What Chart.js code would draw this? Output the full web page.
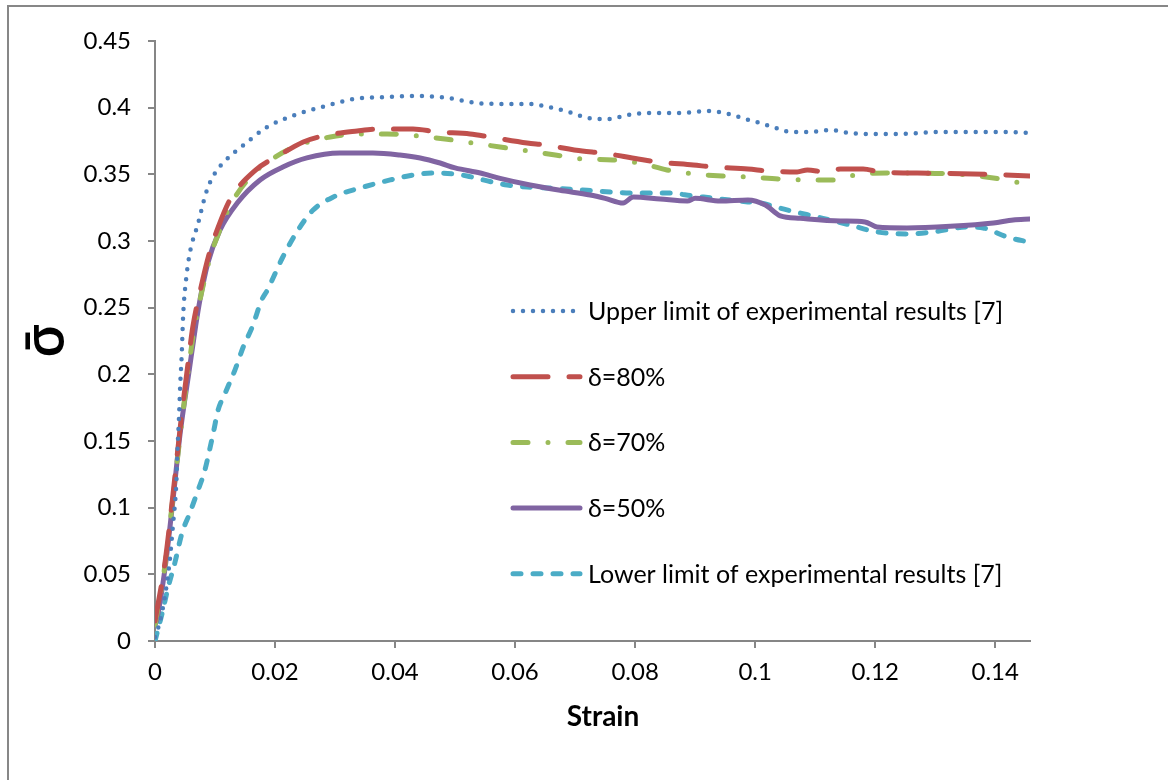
<!DOCTYPE html>
<html>
<head>
<meta charset="utf-8">
<script src="https://cdn.jsdelivr.net/npm/chart.js@4.4.0/dist/chart.umd.min.js"></script>
<style>
  body { margin: 0; background: #fff; overflow: hidden; }
  #frame { position: absolute; left: 7px; top: 5px; width: 1300px; height: 900px; border: 2px solid #878787; }
  #chart { position: absolute; left: 0; top: 0; }
</style>
</head>
<body>
<div id="frame"></div>
<canvas id="chart" width="1168" height="780"></canvas>
<script>
// [strain, stress] pairs
var upperLimit = [[0,0.003],[0.0008,0.014],[0.0016,0.032],[0.0021,0.047],[0.0025,0.062],[0.0028,0.077],[0.0031,0.092],[0.0034,0.107],[0.0036,0.123],[0.0037,0.138],[0.004,0.168],[0.0042,0.192],[0.00445,0.2145],[0.0047,0.245],[0.0052,0.272],[0.0058,0.291],[0.0072,0.3135],[0.0085,0.336],[0.0098,0.3495],[0.012,0.3615],[0.0145,0.371],[0.0187,0.3855],[0.0233,0.3945],[0.0282,0.401],[0.0332,0.4065],[0.0383,0.408],[0.0435,0.4088],[0.0487,0.4073],[0.0537,0.4035],[0.057,0.4028],[0.0622,0.4028],[0.0655,0.4005],[0.0688,0.397],[0.0722,0.3923],[0.0755,0.3915],[0.0788,0.3945],[0.0822,0.396],[0.0873,0.396],[0.0925,0.3975],[0.0958,0.395],[0.0988,0.391],[0.1008,0.3885],[0.104,0.384],[0.1058,0.3818],[0.1092,0.3818],[0.1125,0.3833],[0.1158,0.381],[0.1192,0.3803],[0.1242,0.3803],[0.1308,0.3818],[0.1408,0.3818],[0.1458,0.381]];
var delta80 = [[0,0.015],[0.0017,0.06],[0.003,0.11],[0.0042,0.16],[0.0055,0.208],[0.0063,0.2355],[0.0075,0.262],[0.009,0.29],[0.0105,0.31],[0.0125,0.331],[0.0167,0.353],[0.0208,0.3645],[0.0247,0.3743],[0.028,0.3788],[0.0337,0.3825],[0.0375,0.384],[0.043,0.384],[0.047,0.3818],[0.0525,0.3803],[0.0558,0.378],[0.062,0.3735],[0.065,0.372],[0.0712,0.3675],[0.0745,0.366],[0.0805,0.3615],[0.0837,0.3593],[0.0897,0.357],[0.093,0.3555],[0.0988,0.354],[0.1022,0.3525],[0.107,0.3518],[0.1087,0.3533],[0.1117,0.3518],[0.1142,0.354],[0.118,0.354],[0.1208,0.3518],[0.127,0.351],[0.1363,0.3503],[0.1458,0.3488]];
var delta70 = [[0,0.012],[0.0017,0.058],[0.003,0.108],[0.0043,0.158],[0.0056,0.205],[0.0065,0.233],[0.0077,0.26],[0.0092,0.288],[0.0107,0.307],[0.0127,0.328],[0.0165,0.351],[0.0197,0.362],[0.024,0.372],[0.0292,0.378],[0.0342,0.3803],[0.0387,0.3803],[0.0437,0.3788],[0.0483,0.3765],[0.053,0.3735],[0.0575,0.3705],[0.0622,0.3675],[0.0667,0.3645],[0.0713,0.3615],[0.0762,0.3608],[0.0807,0.3585],[0.0853,0.3533],[0.0897,0.3503],[0.0945,0.3488],[0.0988,0.348],[0.1042,0.3465],[0.1087,0.3458],[0.113,0.3458],[0.1145,0.3473],[0.1178,0.3503],[0.1242,0.351],[0.133,0.3503],[0.1408,0.3465],[0.1458,0.342]];
var delta50 = [[0,0.012],[0.0003,0.016],[0.0017,0.0555],[0.003,0.106],[0.0042,0.156],[0.0057,0.203],[0.0068,0.237],[0.0075,0.256],[0.0088,0.2835],[0.0108,0.308],[0.0137,0.3285],[0.0175,0.3458],[0.0213,0.3555],[0.0253,0.3623],[0.0308,0.366],[0.0363,0.366],[0.0408,0.3645],[0.0442,0.3623],[0.0475,0.3585],[0.05,0.3548],[0.0542,0.351],[0.0575,0.347],[0.0625,0.342],[0.0675,0.338],[0.0725,0.3345],[0.075,0.332],[0.078,0.3285],[0.0797,0.333],[0.0842,0.3315],[0.0887,0.33],[0.09,0.332],[0.0942,0.33],[0.0988,0.3308],[0.1017,0.327],[0.1042,0.3188],[0.1075,0.317],[0.1142,0.315],[0.1183,0.3143],[0.1203,0.3105],[0.1253,0.3098],[0.1325,0.311],[0.1397,0.3135],[0.143,0.3158],[0.1458,0.3165]];
var lowerLimit = [[0,0],[0.0012,0.021],[0.0022,0.0405],[0.0033,0.0585],[0.0045,0.081],[0.0058,0.096],[0.007,0.111],[0.0083,0.128],[0.0092,0.1455],[0.0098,0.158],[0.0105,0.173],[0.0117,0.186],[0.0133,0.203],[0.0147,0.2205],[0.0162,0.2355],[0.0178,0.256],[0.0187,0.263],[0.0213,0.288],[0.0238,0.308],[0.0263,0.323],[0.0297,0.333],[0.0342,0.3398],[0.0392,0.3458],[0.0437,0.35],[0.047,0.351],[0.052,0.3488],[0.0547,0.3458],[0.0587,0.342],[0.062,0.3405],[0.0658,0.3398],[0.072,0.338],[0.0797,0.336],[0.0853,0.336],[0.0897,0.3338],[0.0942,0.3315],[0.0988,0.3293],[0.1008,0.3285],[0.1053,0.3233],[0.1113,0.317],[0.1158,0.312],[0.1203,0.3068],[0.1253,0.3053],[0.1297,0.3068],[0.1353,0.3105],[0.138,0.3098],[0.142,0.303],[0.1458,0.299]];

var seriesNames = ["Upper limit of experimental results [7]", "\u03b4=80%", "\u03b4=70%", "\u03b4=50%", "Lower limit of experimental results [7]"];
var xTicks = [0, 0.02, 0.04, 0.06, 0.08, 0.1, 0.12, 0.14];
var yTicks = [0, 0.05, 0.1, 0.15, 0.2, 0.25, 0.3, 0.35, 0.4, 0.45];

var FONT = 'Lato, "Open Sans", "DejaVu Sans", sans-serif';
var axisGray = "#868686";

function toPoints(arr) {
    return arr.map(function (p) { return {x: p[0], y: p[1]}; });
}

function line(label, data, color, dash, width) {
    return {
        label: label,
        data: toPoints(data),
        borderColor: color,
        borderWidth: width,
        borderDash: dash,
        borderCapStyle: "round",
        borderJoinStyle: "round",
        pointRadius: 0,
        fill: false,
        cubicInterpolationMode: "monotone"
    };
}

// legend drawn inside the plot, like the original
var insideLegend = {
    id: "insideLegend",
    afterDraw: function (chart) {
        var ctx = chart.ctx;
        var area = chart.chartArea;
        var x0 = area.left + 358, x1 = area.left + 425, tx = area.left + 433;
        chart.data.datasets.forEach(function (ds, i) {
            var y = area.top + 270 + i * 65.7;
            ctx.save();
            ctx.strokeStyle = ds.borderColor;
            ctx.lineWidth = ds.borderWidth;
            ctx.lineCap = "round";
            ctx.setLineDash(ds.borderDash || []);
            ctx.beginPath();
            ctx.moveTo(x0, y);
            ctx.lineTo(x1, y);
            ctx.stroke();
            ctx.setLineDash([]);
            ctx.fillStyle = "#000";
            ctx.font = "25px " + FONT;
            ctx.textBaseline = "middle";
            ctx.fillText(ds.label, tx, y + 1);
            ctx.restore();
        });
    }
};

var chart = new Chart(document.getElementById("chart"), {
    type: "line",
    data: {
        datasets: [
            line(seriesNames[0], upperLimit, "#4A7EBB", [0, 10], 4.5),
            line(seriesNames[1], delta80, "#C0504D", [35, 21], 5),
            line(seriesNames[2], delta70, "#9BBB59", [15, 20, 0, 20], 5),
            line(seriesNames[3], delta50, "#8064A2", [], 5),
            line(seriesNames[4], lowerLimit, "#4BACC6", [8, 12], 5)
        ]
    },
    options: {
        responsive: false,
        animation: false,
        devicePixelRatio: 1,
        layout: { padding: { left: 0, top: 41, right: 138, bottom: 0 } },
        plugins: { legend: { display: false }, tooltip: { enabled: false } },
        scales: {
            x: {
                type: "linear",
                min: 0,
                max: 0.1458,
                afterBuildTicks: function (scale) {
                    scale.ticks = xTicks.map(function (v) { return {value: v}; });
                },
                afterFit: function (scale) { scale.height = 139; },
                grid: { drawOnChartArea: false, color: axisGray, lineWidth: 2, tickLength: 7 },
                border: { color: axisGray, width: 2 },
                ticks: {
                    color: "#000",
                    padding: 10,
                    maxRotation: 0,
                    font: { family: FONT, size: 24 },
                    callback: function (v) { return String(Number(v.toFixed(2))); }
                },
                title: {
                    display: true,
                    text: "\u2003Strain",
                    color: "#000",
                    font: { family: FONT, size: 28, weight: "bold" },
                    padding: { top: 0, bottom: 46 }
                }
            },
            y: {
                type: "linear",
                min: 0,
                max: 0.45,
                afterBuildTicks: function (scale) {
                    scale.ticks = yTicks.map(function (v) { return {value: v}; });
                },
                afterFit: function (scale) { scale.width = 155; },
                grid: { drawOnChartArea: false, color: axisGray, lineWidth: 2, tickLength: 7 },
                border: { color: axisGray, width: 2 },
                ticks: {
                    color: "#000",
                    padding: 17,
                    font: { family: FONT, size: 24 },
                    callback: function (v) { return String(Number(v.toFixed(2))); }
                },
                title: {
                    display: true,
                    text: "\u03c3\u0304",
                    color: "#000",
                    font: { family: '"Open Sans", "DejaVu Sans", sans-serif', size: 54, weight: "600" },
                    padding: { top: 15, bottom: 0 }
                }
            }
        }
    },
    plugins: [insideLegend]
});
</script>
</body>
</html>
